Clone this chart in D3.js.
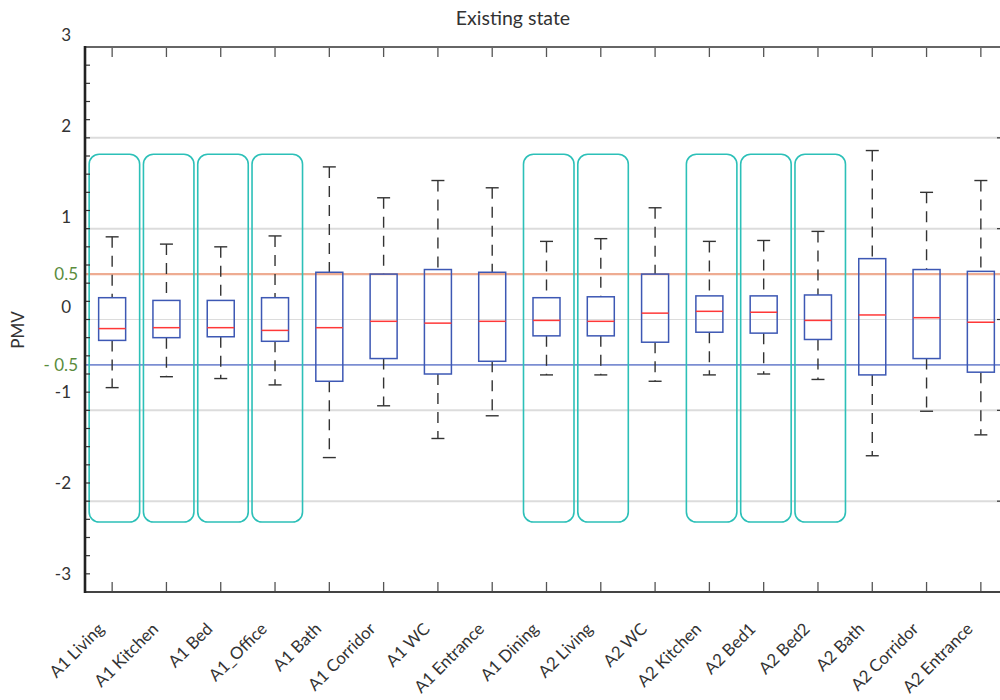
<!DOCTYPE html>
<html lang="en">
    <head>
        <meta charset="utf-8">
        <title>Existing state</title>
        <script type="text/javascript" src="https://cdn.jsdelivr.net/npm/d3@7"></script>
        <style>
            body { margin: 0; background: #fff; }
            text { font-family: Lato, "Open Sans", sans-serif; fill: #333; }
        </style>
    </head>
    <body>
        <script type="text/javascript">
            var w = 1000;
            var h = 700;

            // rooms, in plot order
            var categories = ["A1 Living", "A1 Kitchen", "A1 Bed", "A1_Office", "A1 Bath", "A1 Corridor",
                              "A1 WC", "A1 Entrance", "A1 Dining", "A2 Living", "A2 WC", "A2 Kitchen",
                              "A2 Bed1", "A2 Bed2", "A2 Bath", "A2 Corridor", "A2 Entrance"];
            // box statistics (PMV)
            var whiskerHigh = [0.91, 0.83, 0.80, 0.92, 1.68, 1.34, 1.53, 1.45, 0.86, 0.89, 1.23, 0.86, 0.87, 0.97, 1.86, 1.40, 1.53];
            var q3          = [0.24, 0.21, 0.21, 0.24, 0.52, 0.50, 0.55, 0.52, 0.24, 0.25, 0.50, 0.26, 0.26, 0.27, 0.67, 0.55, 0.53];
            var median      = [-0.10, -0.09, -0.09, -0.12, -0.09, -0.02, -0.04, -0.02, -0.01, -0.02, 0.07, 0.09, 0.08, -0.01, 0.05, 0.02, -0.03];
            var q1          = [-0.23, -0.20, -0.19, -0.24, -0.68, -0.43, -0.60, -0.46, -0.18, -0.18, -0.25, -0.14, -0.15, -0.22, -0.61, -0.43, -0.58];
            var whiskerLow  = [-0.75, -0.63, -0.65, -0.72, -1.52, -0.95, -1.31, -1.06, -0.61, -0.61, -0.68, -0.61, -0.60, -0.66, -1.50, -1.01, -1.27];

            // rooms framed by the teal rounded boxes
            var highlighted = ["A1 Living", "A1 Kitchen", "A1 Bed", "A1_Office", "A1 Dining", "A2 Living",
                               "A2 Kitchen", "A2 Bed1", "A2 Bed2"];
            var highlightRange = [1.82, -2.23];

            var yTicks = [3, 2, 1, 0, -1, -2, -3];
            var gridValues = [2, 1, 0, -1, -2];
            var comfortLimits = [0.5, -0.5];
            var comfortLabels = ["0.5", "- 0.5"];

            var plotLeft = 85, plotRight = 1008, plotTop = 47, plotBottom = 592;

            var x = d3.scaleLinear().domain([0.5, categories.length + 0.5]).range([plotLeft, plotRight]);
            var y = d3.scaleLinear().domain([-3, 3]).range([plotBottom, plotTop]);

            var svg = d3.select("body").append("svg").attr("width", w).attr("height", h);

            // grid
            svg.append("g").selectAll("line").data(gridValues).enter().append("line")
               .attr("x1", plotLeft).attr("x2", plotRight)
               .attr("y1", function(d) { return y(d); }).attr("y2", function(d) { return y(d); })
               .attr("stroke", "#dcdcdc")
               .attr("stroke-width", function(d) { return d === 0 ? 1.2 : 2; });

            // comfort band limits
            svg.append("g").selectAll("line").data(comfortLimits).enter().append("line")
               .attr("x1", plotLeft).attr("x2", plotRight)
               .attr("y1", function(d) { return y(d); }).attr("y2", function(d) { return y(d); })
               .attr("stroke", function(d) { return d > 0 ? "#eeac92" : "#7b8ed2"; })
               .attr("stroke-width", function(d) { return d > 0 ? 2.2 : 1.6; });

            svg.append("g").selectAll("text").data(comfortLimits).enter().append("text")
               .attr("x", 78)
               .attr("y", function(d) { return y(d); })
               .attr("dy", "0.35em")
               .attr("text-anchor", "end")
               .attr("font-size", "17px")
               .style("fill", "#5a8c3c")
               .text(function(d, i) { return comfortLabels[i]; });

            // teal frames
            svg.append("g").selectAll("rect").data(highlighted).enter().append("rect")
               .attr("x", function(d) { return x(categories.indexOf(d) + 1) - 23; })
               .attr("width", 50.5)
               .attr("y", y(highlightRange[0]))
               .attr("height", y(highlightRange[1]) - y(highlightRange[0]))
               .attr("rx", 10).attr("ry", 10)
               .attr("fill", "none")
               .attr("stroke", "#2cc0b8")
               .attr("stroke-width", 1.6);

            // boxes
            var boxW = 27, capW = 13;
            var boxes = svg.append("g").selectAll("g").data(categories).enter().append("g")
                           .attr("transform", function(d, i) { return "translate(" + x(i + 1) + ",0)"; });

            boxes.append("line")
                 .attr("x1", 0).attr("x2", 0)
                 .attr("y1", function(d, i) { return y(whiskerHigh[i]); })
                 .attr("y2", function(d, i) { return y(q3[i]); })
                 .attr("stroke", "#333").attr("stroke-width", 1.4).attr("stroke-dasharray", "11,8");
            boxes.append("line")
                 .attr("x1", 0).attr("x2", 0)
                 .attr("y1", function(d, i) { return y(q1[i]); })
                 .attr("y2", function(d, i) { return y(whiskerLow[i]); })
                 .attr("stroke", "#333").attr("stroke-width", 1.4).attr("stroke-dasharray", "11,8");
            boxes.append("line")
                 .attr("x1", -capW / 2).attr("x2", capW / 2)
                 .attr("y1", function(d, i) { return y(whiskerHigh[i]); })
                 .attr("y2", function(d, i) { return y(whiskerHigh[i]); })
                 .attr("stroke", "#333").attr("stroke-width", 1.4);
            boxes.append("line")
                 .attr("x1", -capW / 2).attr("x2", capW / 2)
                 .attr("y1", function(d, i) { return y(whiskerLow[i]); })
                 .attr("y2", function(d, i) { return y(whiskerLow[i]); })
                 .attr("stroke", "#333").attr("stroke-width", 1.4);
            boxes.append("rect")
                 .attr("x", -boxW / 2).attr("width", boxW)
                 .attr("y", function(d, i) { return y(q3[i]); })
                 .attr("height", function(d, i) { return y(q1[i]) - y(q3[i]); })
                 .attr("fill", "none")
                 .attr("stroke", "#3d58b4").attr("stroke-width", 1.5);
            boxes.append("line")
                 .attr("x1", -boxW / 2).attr("x2", boxW / 2)
                 .attr("y1", function(d, i) { return y(median[i]); })
                 .attr("y2", function(d, i) { return y(median[i]); })
                 .attr("stroke", "#ff3838").attr("stroke-width", 1.5);

            // frame and ticks
            var ticks = d3.range(1, categories.length + 1);
            svg.append("g").selectAll("line").data(ticks).enter().append("line")
               .attr("x1", function(d) { return x(d); }).attr("x2", function(d) { return x(d); })
               .attr("y1", plotBottom).attr("y2", plotBottom - 10)
               .attr("stroke", "#555").attr("stroke-width", 1.3);
            svg.append("g").selectAll("line").data(ticks).enter().append("line")
               .attr("x1", function(d) { return x(d); }).attr("x2", function(d) { return x(d); })
               .attr("y1", plotTop).attr("y2", plotTop + 10)
               .attr("stroke", "#555").attr("stroke-width", 1.3);

            var minor = d3.range(-30, 31, 2).map(function(d) { return d / 10; });
            svg.append("g").selectAll("line").data(minor).enter().append("line")
               .attr("x1", plotLeft).attr("x2", plotLeft + 5)
               .attr("y1", function(d) { return y(d); }).attr("y2", function(d) { return y(d); })
               .attr("stroke", "#333").attr("stroke-width", 1.2);
            svg.append("g").selectAll("line").data(yTicks).enter().append("line")
               .attr("x1", plotRight).attr("x2", plotRight - 11)
               .attr("y1", function(d) { return y(d); }).attr("y2", function(d) { return y(d); })
               .attr("stroke", "#333").attr("stroke-width", 1.2);

            svg.append("line").attr("x1", plotLeft).attr("x2", plotRight).attr("y1", plotTop).attr("y2", plotTop)
               .attr("stroke", "#666").attr("stroke-width", 2);
            svg.append("line").attr("x1", plotLeft).attr("x2", plotRight).attr("y1", plotBottom).attr("y2", plotBottom)
               .attr("stroke", "#444").attr("stroke-width", 2);
            svg.append("line").attr("x1", plotLeft).attr("x2", plotLeft).attr("y1", plotTop - 1).attr("y2", plotBottom + 1)
               .attr("stroke", "#222").attr("stroke-width", 2.6);

            // y tick labels (sit a little above their grid lines)
            var yaxis = d3.axisLeft(y).tickValues(yTicks).tickSize(0).tickPadding(14)
                          .tickFormat(function(d) { return String(d); });
            var ya = svg.append("g").attr("transform", "translate(" + plotLeft + ",0)").call(yaxis);
            ya.select(".domain").remove();
            ya.selectAll("text")
              .attr("font-family", "Lato, sans-serif")
              .attr("font-size", "17px")
              .style("fill", "#333")
              .attr("y", function(d) { return d >= 0 ? -12 : -18; });

            // x tick labels
            svg.append("g").selectAll("text").data(categories).enter().append("text")
               .attr("transform", function(d, i) { return "translate(" + (x(i + 1) - 7) + ",630) rotate(-45)"; })
               .attr("text-anchor", "end")
               .attr("font-size", "16.8px")
               .text(function(d) { return d; });

            svg.append("text")
               .attr("transform", "translate(24,330) rotate(-90)")
               .attr("text-anchor", "middle")
               .attr("font-size", "17px")
               .text("PMV");

            svg.append("text")
               .attr("x", 513).attr("y", 25)
               .attr("text-anchor", "middle")
               .attr("font-size", "19.5px")
               .text("Existing state");
        </script>
    </body>
</html>
